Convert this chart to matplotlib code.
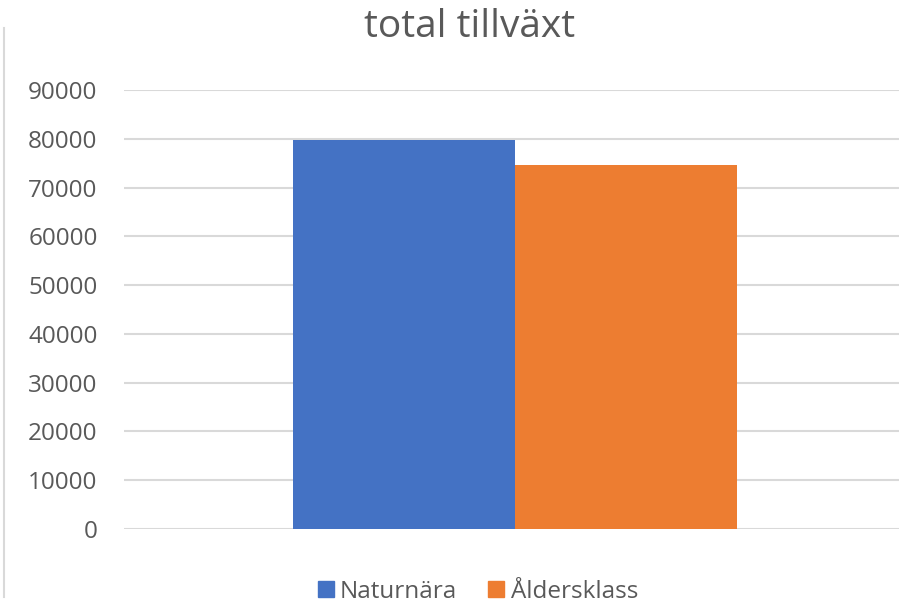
import matplotlib
matplotlib.use("Agg")
import matplotlib.pyplot as plt
from matplotlib.lines import Line2D

title = "total tillväxt"
series_names = ["Naturnära", "Åldersklass"]
values = [79800, 74700]
colors = ["#4472C4", "#ED7D31"]
yticks = [0, 10000, 20000, 30000, 40000, 50000, 60000, 70000, 80000, 90000]

W, H = 899, 606
fig = plt.figure(figsize=(W / 100, H / 100), dpi=100)
plt.rcParams['font.family'] = ['Open Sans', 'DejaVu Sans']

left, right = 124, 906
top, bottom = 90, 529
ax = fig.add_axes([left / W, 1 - bottom / H, (right - left) / W, (bottom - top) / H])

bw = 0.284
for i, (name, v, c) in enumerate(zip(series_names, values, colors)):
    ax.bar((i - 0.5) * bw, v, width=bw, color=c, label=name, zorder=3, linewidth=0)

ax.set_xlim(-0.5, 0.5)
ax.set_ylim(0, 90000)
ax.set_yticks(yticks)
ax.set_yticklabels([str(t) for t in yticks], fontsize=17.5, color="#595959")
ax.tick_params(axis="y", length=0, pad=19)
ax.set_xticks([])
ax.yaxis.grid(True, color="#D9D9D9", linewidth=1.5, zorder=0)
for s in ax.spines.values():
    s.set_visible(False)

fig.text(470 / W, 1 - 27 / H, title, ha="center", va="center", fontsize=28, color="#595959")

handles = [Line2D([0], [0], marker="s", linestyle="none", markersize=12,
                  markerfacecolor=c, markeredgecolor=c) for c in colors]
fig.legend(handles, series_names, loc="center", bbox_to_anchor=(477 / W, 1 - 592 / H),
           ncol=2, frameon=False, fontsize=17.5, labelcolor="#595959",
           handletextpad=0.2, columnspacing=1.2, handlelength=0.8)

fig.add_artist(Line2D([4 / W, 4 / W], [1 - 28 / H, 1 - 597 / H], color="#D9D9D9", linewidth=1.5,
                      transform=fig.transFigure))

fig.savefig("out.png", dpi=100)
